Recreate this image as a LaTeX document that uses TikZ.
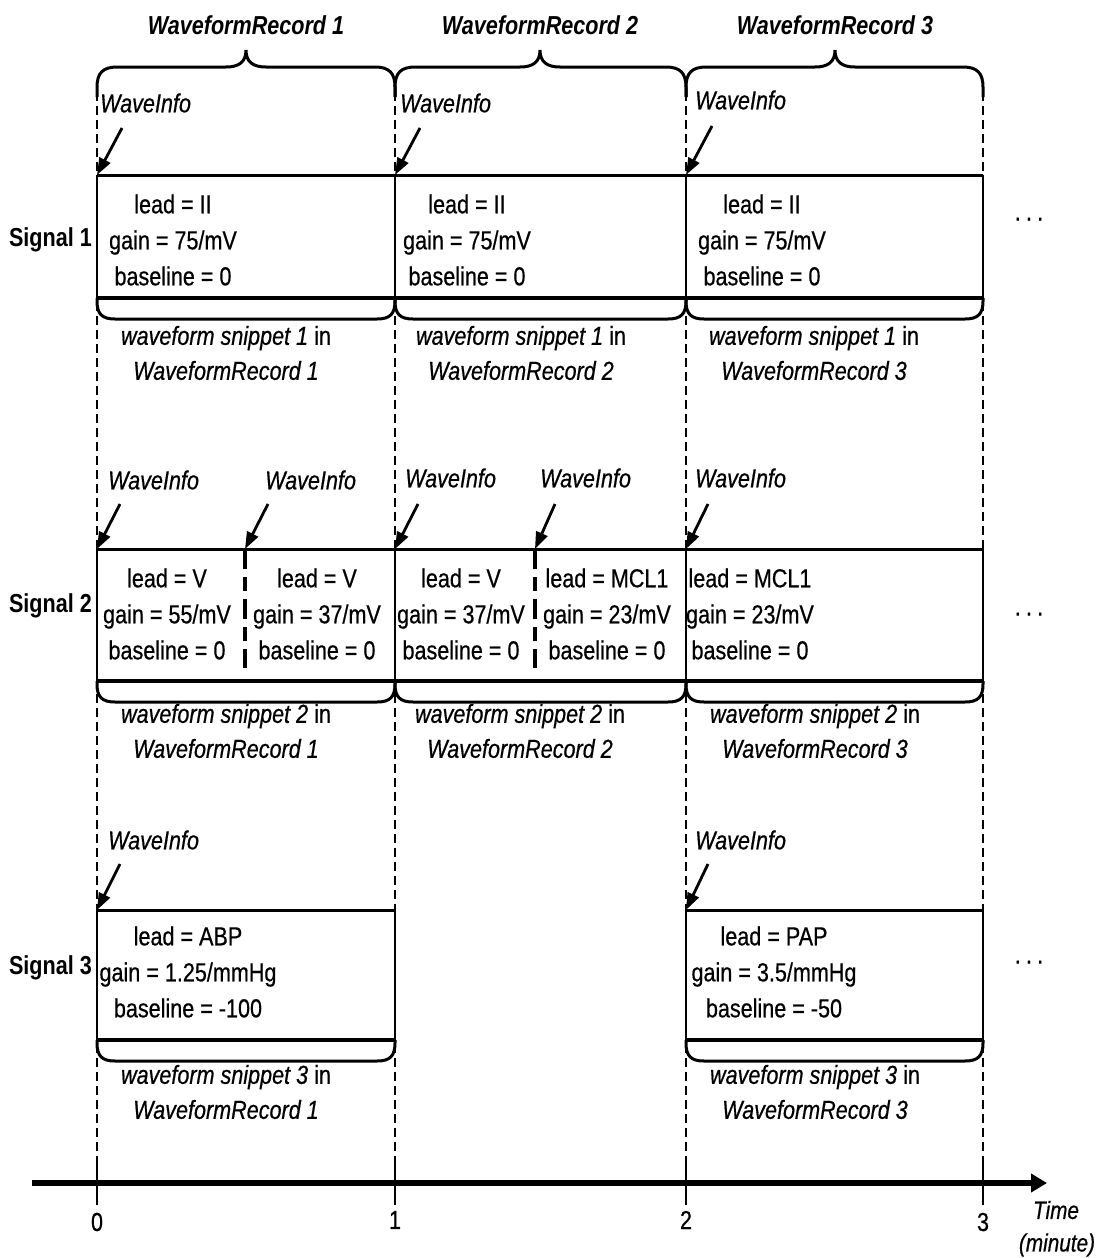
\documentclass[tikz,border=0pt]{standalone}
\usepackage{fontspec}
\setmainfont[FakeStretch=0.83,UprightFeatures={FakeBold=0.6},ItalicFeatures={FakeBold=0.6}]{Liberation Sans}
\usetikzlibrary{arrows.meta}
\begin{document}
\begin{tikzpicture}[x=1pt,y=-1pt,
  boxtxt/.style={align=center,inner sep=0pt,font=\fontsize{26}{36}\selectfont},
  snip/.style={align=center,inner sep=0pt,font=\itshape\fontsize{26}{35}\selectfont},
  wrtitle/.style={inner sep=0pt,font=\bfseries\itshape\fontsize{26}{30}\selectfont},
  siglbl/.style={inner sep=0pt,anchor=east,font=\bfseries\fontsize{26}{30}\selectfont},
  winfo/.style={inner sep=0pt,anchor=west,font=\itshape\fontsize{26}{30}\selectfont},
  ticklbl/.style={inner sep=0pt,font=\fontsize{26}{30}\selectfont},
  guide/.style={line width=2pt,dash pattern=on 9pt off 5pt},
  divider/.style={line width=3.5pt,dash pattern=on 20pt off 8pt on 14pt off 8pt},
  boxline/.style={line width=2.5pt},
  topline/.style={line width=3pt},
  botline/.style={line width=4pt},
  bracepath/.style={line width=3pt},
  wiarrow/.style={line width=2.8pt,-{Triangle[length=17pt,width=12pt]}},
  axisline/.style={line width=6pt,-{Triangle[length=16pt,width=18pt]}},
  tickmark/.style={line width=2.5pt}
]
\useasboundingbox (0,0) rectangle (1097,1258);

% vertical dashed guides
\foreach \gx in {97,395,686,983}{
  \draw[guide] (\gx,92) -- (\gx,1205);
  \draw[tickmark] (\gx,1160) -- (\gx,1203);
}

% titles and top braces
\node[wrtitle] (t1) at (246,25) {WaveformRecord 1};
\node[wrtitle] (t2) at (540,25) {WaveformRecord 2};
\node[wrtitle] (t3) at (835,25) {WaveformRecord 3};
\draw[bracepath] (97,97) -- (97,87) .. controls (97,73) and (103,67) .. (117,67) -- (226,67) .. controls (239,67) and (246,62) .. (246,50) .. controls (246,62) and (253,67) .. (266,67) -- (375,67) .. controls (389,67) and (395,73) .. (395,87) -- (395,97);
\draw[bracepath] (395,97) -- (395,87) .. controls (395,73) and (401,67) .. (415,67) -- (520,67) .. controls (533,67) and (540,62) .. (540,50) .. controls (540,62) and (547,67) .. (560,67) -- (666,67) .. controls (680,67) and (686,73) .. (686,87) -- (686,97);
\draw[bracepath] (686,97) -- (686,87) .. controls (686,73) and (692,67) .. (706,67) -- (815,67) .. controls (828,67) and (835,62) .. (835,50) .. controls (835,62) and (842,67) .. (855,67) -- (963,67) .. controls (977,67) and (983,73) .. (983,87) -- (983,97);

% ---------------- Signal 1 ----------------
\draw[topline] (97,175) -- (983,175);
\draw[botline] (97,298) -- (983,298);
\foreach \gx in {97,395,686,983}{\draw[boxline] (\gx,175) -- (\gx,298);}
\foreach \xl/\xr in {97/395,395/686,686/983}{
  \draw[bracepath] (\xl,298) -- (\xl,301) .. controls (\xl,314) and (\xl+5,319) .. (\xl+18,319) -- (\xr-18,319) .. controls (\xr-5,319) and (\xr,314) .. (\xr,301) -- (\xr,298);
}
\node[siglbl] (sig1) at (92,240) {Signal 1};
\node[boxtxt] (s1r1) at (173,240) {lead = II\\gain = 75/mV\\baseline = 0};
\node[boxtxt] (s1r2) at (467,240) {lead = II\\gain = 75/mV\\baseline = 0};
\node[boxtxt] (s1r3) at (762,240) {lead = II\\gain = 75/mV\\baseline = 0};
\node[snip] (n1r1) at (226,353) {waveform snippet 1 \textup{in}\\WaveformRecord 1};
\node[snip] (n1r2) at (521,353) {waveform snippet 1 \textup{in}\\WaveformRecord 2};
\node[snip] (n1r3) at (814,353) {waveform snippet 1 \textup{in}\\WaveformRecord 3};
\node[winfo] (w11) at (100,103) {WaveInfo};
\node[winfo] (w12) at (400,103) {WaveInfo};
\node[winfo] (w13) at (695,100) {WaveInfo};
\coordinate (c11) at (97,175); \coordinate (a11) at (122,128);
\coordinate (c12) at (395,175); \coordinate (a12) at (420,128);
\coordinate (c13) at (686,175); \coordinate (a13) at (712,126);
\draw[wiarrow] (a11) -- (c11);
\draw[wiarrow] (a12) -- (c12);
\draw[wiarrow] (a13) -- (c13);
\node[ticklbl] (dots1) at (1029,222) {·\hspace{4pt}·\hspace{4pt}·};

% ---------------- Signal 2 ----------------
\draw[topline] (97,549) -- (983,549);
\draw[botline] (97,681) -- (983,681);
\foreach \gx in {97,395,686,983}{\draw[boxline] (\gx,549) -- (\gx,681);}
\draw[divider] (245,549) -- (245,668);
\draw[divider] (535,549) -- (535,668);
\foreach \xl/\xr in {97/395,395/686,686/983}{
  \draw[bracepath] (\xl,681) -- (\xl,684) .. controls (\xl,697) and (\xl+5,702) .. (\xl+18,702) -- (\xr-18,702) .. controls (\xr-5,702) and (\xr,697) .. (\xr,684) -- (\xr,681);
}
\node[siglbl] (sig2) at (92,606) {Signal 2};
\node[boxtxt] (s2r1a) at (167,614) {lead = V\\gain = 55/mV\\baseline = 0};
\node[boxtxt] (s2r1b) at (317,614) {lead = V\\gain = 37/mV\\baseline = 0};
\node[boxtxt] (s2r2a) at (461,614) {lead = V\\gain = 37/mV\\baseline = 0};
\node[boxtxt] (s2r2b) at (607,614) {lead = MCL1\\gain = 23/mV\\baseline = 0};
\node[boxtxt] (s2r3) at (750,614) {lead = MCL1\\gain = 23/mV\\baseline = 0};
\node[snip] (n2r1) at (226,731) {waveform snippet 2 \textup{in}\\WaveformRecord 1};
\node[snip] (n2r2) at (520,731) {waveform snippet 2 \textup{in}\\WaveformRecord 2};
\node[snip] (n2r3) at (815,731) {waveform snippet 2 \textup{in}\\WaveformRecord 3};
\node[winfo] (w21) at (108,480) {WaveInfo};
\node[winfo] (w22) at (265,480) {WaveInfo};
\node[winfo] (w23) at (405,478) {WaveInfo};
\node[winfo] (w24) at (540,478) {WaveInfo};
\node[winfo] (w25) at (695,478) {WaveInfo};
\coordinate (c21) at (97,549);  \coordinate (a21) at (120,504);
\coordinate (c22) at (245,549); \coordinate (a22) at (268,504);
\coordinate (c23) at (395,549); \coordinate (a23) at (418,504);
\coordinate (c24) at (535,549); \coordinate (a24) at (555,504);
\coordinate (c25) at (686,549); \coordinate (a25) at (708,504);
\foreach \i in {1,...,5}{\draw[wiarrow] (a2\i) -- (c2\i);}
\node[ticklbl] (dots2) at (1029,617) {·\hspace{4pt}·\hspace{4pt}·};

% ---------------- Signal 3 ----------------
\foreach \xl/\xr in {97/395,686/983}{
  \draw[topline] (\xl,910) -- (\xr,910);
  \draw[botline] (\xl,1040) -- (\xr,1040);
  \draw[boxline] (\xl,910) -- (\xl,1040);
  \draw[boxline] (\xr,910) -- (\xr,1040);
  \draw[bracepath] (\xl,1040) -- (\xl,1043) .. controls (\xl,1056) and (\xl+5,1061) .. (\xl+18,1061) -- (\xr-18,1061) .. controls (\xr-5,1061) and (\xr,1056) .. (\xr,1043) -- (\xr,1040);
}
\node[siglbl] (sig3) at (92,968) {Signal 3};
\node[boxtxt] (s3r1) at (188,972) {lead = ABP\\gain = 1.25/mmHg\\baseline = -100};
\node[boxtxt] (s3r3) at (774,972) {lead = PAP\\gain = 3.5/mmHg\\baseline = -50};
\node[snip] (n3r1) at (226,1092) {waveform snippet 3 \textup{in}\\WaveformRecord 1};
\node[snip] (n3r3) at (815,1092) {waveform snippet 3 \textup{in}\\WaveformRecord 3};
\node[winfo] (w31) at (108,840) {WaveInfo};
\node[winfo] (w33) at (695,840) {WaveInfo};
\coordinate (c31) at (97,910);  \coordinate (a31) at (120,864);
\coordinate (c33) at (686,910); \coordinate (a33) at (708,864);
\draw[wiarrow] (a31) -- (c31);
\draw[wiarrow] (a33) -- (c33);
\node[ticklbl] (dots3) at (1029,965) {·\hspace{4pt}·\hspace{4pt}·};

% ---------------- time axis ----------------
\coordinate (ax0) at (32,1183);
\coordinate (ax1) at (1047,1183);
\draw[axisline] (ax0) -- (ax1);
\node[ticklbl] (l0) at (97,1222) {0};
\node[ticklbl] (l1) at (395,1220) {1};
\node[ticklbl] (l2) at (686,1220) {2};
\node[ticklbl] (l3) at (983,1222) {3};
\node[inner sep=0pt,font=\itshape\fontsize{25}{30}\selectfont] (tm) at (1056,1210) {Time};
\node[inner sep=0pt,font=\itshape\fontsize{25}{30}\selectfont] (mn) at (1057,1245) {(minute)};
\end{tikzpicture}
\end{document}
